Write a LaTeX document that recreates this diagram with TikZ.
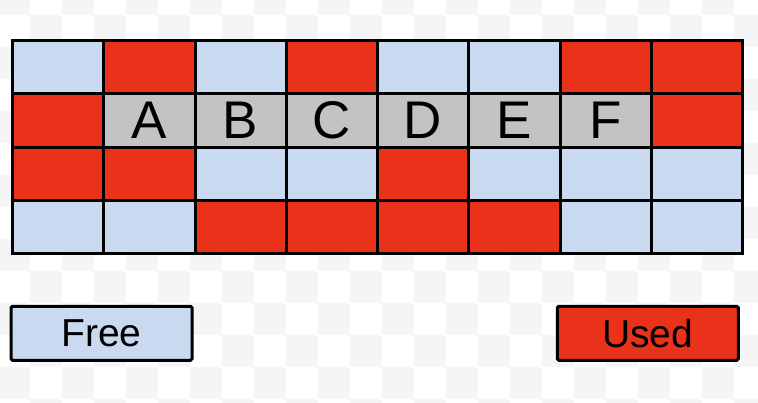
\documentclass[tikz,border=0pt]{standalone}
\usepackage{fontspec}
\setmainfont{Liberation Sans}
\usetikzlibrary{positioning}
\definecolor{freeblue}{HTML}{C9DAF0}
\definecolor{usedred}{HTML}{EA3119}
\definecolor{slotgray}{HTML}{C3C3C3}
\definecolor{checkgray}{HTML}{F5F5F5}

\begin{document}
\begin{tikzpicture}[
  x=1pt, y=-1pt,
  cell/.style={draw, line width=3pt, anchor=north west, inner sep=0pt, minimum width=91.25pt, minimum height=53.25pt, font=\fontsize{53}{53}\selectfont},
  free/.style={cell, fill=freeblue},
  used/.style={cell, fill=usedred},
  slot/.style={cell, fill=slotgray},
  key/.style={draw, line width=3pt, rounded corners=1.5pt, inner sep=0pt, minimum width=181pt, minimum height=54pt, font=\fontsize{39}{39}\selectfont}
]

% Background checkerboard
\useasboundingbox (0,0) rectangle (758,402);
\begin{scope}
\clip (0,0) rectangle (758,402);
\fill[white] (0,0) rectangle (758,402);
\foreach \i in {0,...,23}
  \foreach \j in {0,...,13}
    {\ifodd\numexpr\i+\j\relax\else\fill[checkgray] (-2+32*\i,-17+32*\j) rectangle ++(32,32);\fi}
\end{scope}

% Memory blocks
\foreach \kind [count=\c from 0] in {free,used,free,used,free,free,used,used}
  \node[\kind] (r1c\c) at (11+91.25*\c,39) {};
\foreach \kind/\txt [count=\c from 0] in {used/{},slot/A,slot/B,slot/C,slot/D,slot/E,slot/F,used/{}}
  \node[\kind] (r2c\c) at (11+91.25*\c,92.25) {\txt};
\foreach \kind [count=\c from 0] in {used,used,free,free,used,free,free,free}
  \node[\kind] (r3c\c) at (11+91.25*\c,145.5) {};
\foreach \kind [count=\c from 0] in {free,free,used,used,used,used,free,free}
  \node[\kind] (r4c\c) at (11+91.25*\c,198.75) {};

% Legend
\node[key, fill=freeblue] (freekey) at (101.5,333.25) {Free};
\node[key, fill=usedred] (usedkey) at (647.75,333.25) {Used};

\end{tikzpicture}
\end{document}
